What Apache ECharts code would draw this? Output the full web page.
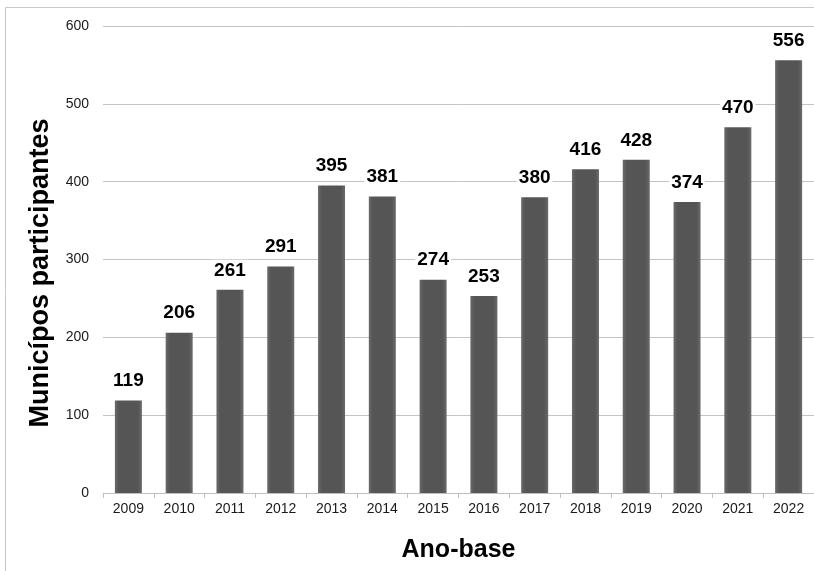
<!DOCTYPE html>
<html><head><meta charset="utf-8">
<script src="https://cdn.jsdelivr.net/npm/echarts@6/dist/echarts.min.js"></script>
<style>html,body{margin:0;padding:0;background:#fff}#c{width:814px;height:571px}</style>
</head><body><div id="c"></div>
<script>
const categories = ['2009','2010','2011','2012','2013','2014','2015','2016','2017','2018','2019','2020','2021','2022'];
const values = [119,206,261,291,395,381,274,253,380,416,428,374,470,556];
const yTicks = {min:0, max:600, interval:100};
const yTitle = 'Municípos participantes';
const xTitle = 'Ano-base';

const chart = echarts.init(document.getElementById('c'));
chart.setOption({
  animation:false,
  backgroundColor:'#fff',
  graphic:[
    {type:'rect', shape:{x:5.5,y:7.5,width:900,height:700}, style:{fill:'none', stroke:'#c8c8c8', lineWidth:1}, silent:true},
    {type:'text', x:41, y:273, rotation:Math.PI/2, silent:true,
      style:{text:yTitle, fill:'#000', fontSize:27, fontWeight:'bold', fontFamily:'Liberation Sans, Arial', align:'center', verticalAlign:'middle'}}
  ],
  grid:{left:103, right:-2, top:26, bottom:78, containLabel:false},
  xAxis:{type:'category', data:categories,
    axisLine:{show:true, lineStyle:{color:'#bfbfbf'}},
    axisTick:{show:true, length:5, lineStyle:{color:'#bfbfbf'}, alignWithLabel:false},
    axisLabel:{color:'#1a1a1a', fontSize:14, fontFamily:'Liberation Sans, Arial', margin:9},
    name:xTitle, nameLocation:'middle', nameGap:45,
    nameTextStyle:{color:'#000', fontSize:25, fontWeight:'bold', fontFamily:'Liberation Sans, Arial'}
  },
  yAxis:{type:'value', min:yTicks.min, max:yTicks.max, interval:yTicks.interval,
    axisLine:{show:false}, axisTick:{show:false},
    splitLine:{lineStyle:{color:'#c4c4c4'}},
    axisLabel:{color:'#1a1a1a', fontSize:14, fontFamily:'Liberation Sans, Arial', margin:14}
  },
  series:[{type:'bar', data:values, barWidth:27,
    itemStyle:{color:new echarts.graphic.LinearGradient(0,0,1,0,[
      {offset:0,color:'#6a6a6a'},{offset:0.15,color:'#555'},{offset:0.85,color:'#555'},{offset:1,color:'#6a6a6a'}])},
    label:{show:true, position:'top', distance:9, color:'#000', fontSize:19, fontWeight:'bold',
      fontFamily:'Liberation Sans, Arial', backgroundColor:'#fff', padding:[1,2]}
  }]
});
</script></body></html>
